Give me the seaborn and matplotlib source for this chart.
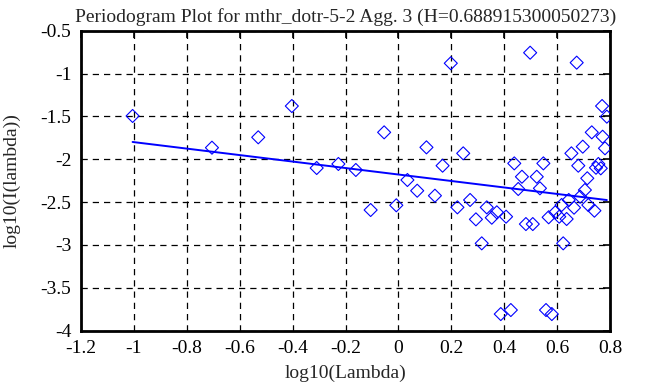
import numpy as np
import pandas as pd
import seaborn as sns
import matplotlib.pyplot as plt

# periodogram points
log_lambda = [-1.005, -0.705, -0.530, -0.403, -0.309, -0.227, -0.161, -0.105, -0.054, -0.008,
              0.034, 0.071, 0.106, 0.138, 0.167, 0.198, 0.223, 0.245, 0.271, 0.293,
              0.315, 0.334, 0.353, 0.372, 0.387, 0.407, 0.425, 0.438, 0.453, 0.467,
              0.482, 0.498, 0.508, 0.523, 0.535, 0.548, 0.558, 0.568, 0.580, 0.593,
              0.608, 0.617, 0.623, 0.636, 0.644, 0.654, 0.664, 0.674, 0.680, 0.687,
              0.697, 0.705, 0.714, 0.718, 0.731, 0.741, 0.747, 0.756, 0.765, 0.770,
              0.772, 0.781, 0.788]
log_i = [-1.495, -1.865, -1.744, -1.379, -2.102, -2.055, -2.125, -2.592, -1.686, -2.537,
         -2.242, -2.367, -1.861, -2.425, -2.075, -0.880, -2.561, -1.931, -2.475, -2.701,
         -2.981, -2.561, -2.682, -2.619, -3.806, -2.670, -3.759, -2.048, -2.347, -2.204,
         -2.756, -0.757, -2.756, -2.204, -2.339, -2.048, -3.759, -2.677, -3.806, -2.619,
         -2.670, -2.534, -2.981, -2.697, -2.475, -1.931, -2.565, -0.873, -2.075, -2.437,
         -1.853, -2.359, -2.222, -2.534, -1.686, -2.600, -2.099, -2.055, -2.106, -1.379,
         -1.737, -1.872, -1.503]

xticks = [-1.2, -1, -0.8, -0.6, -0.4, -0.2, 0, 0.2, 0.4, 0.6, 0.8]
yticks = [-4, -3.5, -3, -2.5, -2, -1.5, -1, -0.5]

H = 0.688915300050273
intercept = -2.178
slope = 1 - 2 * H

df = pd.DataFrame({"x": log_lambda, "y": log_i})
fit_x = np.array([min(log_lambda), max(log_lambda)])
fit = pd.DataFrame({"x": fit_x, "y": intercept + slope * fit_x})

sns.set_style("white")
plt.rcParams['font.family'] = ['Liberation Serif', 'DejaVu Serif']
plt.rcParams['font.size'] = 14

fig = plt.figure(figsize=(6.68, 3.87), dpi=100)
ax = fig.add_axes([0.1213, 0.1455, 0.7919, 0.7752])

sns.scatterplot(data=df, x="x", y="y", ax=ax, marker="D", s=44,
                facecolor="none", edgecolor="#0000ff", linewidth=0.8, zorder=3)
sns.lineplot(data=fit, x="x", y="y", ax=ax, color="#0000ff", linewidth=1.4, zorder=4)

ax.set_xlim(-1.2, 0.8)
ax.set_ylim(-4, -0.5)
ax.set_xticks(xticks)
ax.set_yticks(yticks)
ax.set_xticklabels([f"{t:g}" for t in xticks])
ax.set_yticklabels([f"{t:g}" for t in yticks])
ax.grid(True, color="black", linestyle=(0, (5, 4)), linewidth=0.9)
ax.tick_params(direction="in", length=5, width=1.2, top=True, right=True,
               colors="black", pad=7, labelsize=14)
for sp in ax.spines.values():
    sp.set_linewidth(2)
    sp.set_color("black")

ax.set_title("Periodogram Plot for mthr_dotr-5-2 Agg. 3 (H=0.688915300050273)", fontsize=14, pad=6)
ax.set_xlabel("log10(Lambda)", labelpad=5)
ax.set_ylabel("log10(I(lambda))", labelpad=14)

fig.savefig("out.png", dpi=100)
